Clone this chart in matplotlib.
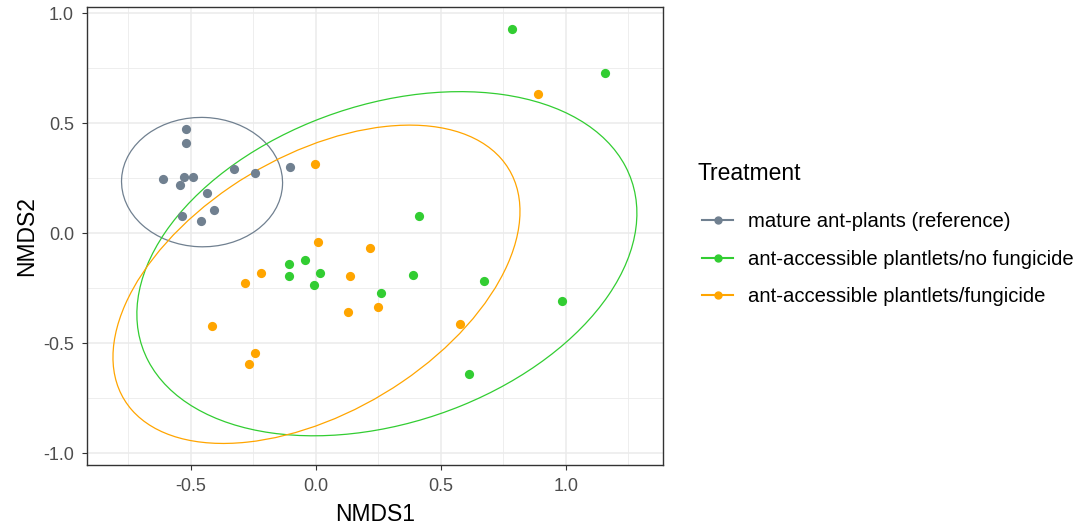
import matplotlib
matplotlib.use("Agg")
import matplotlib.pyplot as plt
from matplotlib.patches import Ellipse
from matplotlib.lines import Line2D

plt.rcParams['font.family'] = ['Liberation Sans', 'DejaVu Sans']
plt.rcParams['axes.unicode_minus'] = False

treatments = ['mature ant-plants (reference)',
              'ant-accessible plantlets/no fungicide',
              'ant-accessible plantlets/fungicide']
colors = ['#708090', '#32CD32', '#FFA500']

# NMDS scores
ref_x = [-0.611, -0.52, -0.52, -0.543, -0.529, -0.491, -0.437, -0.536, -0.46, -0.408, -0.327, -0.245, -0.103]
ref_y = [0.247, 0.474, 0.412, 0.22, 0.255, 0.256, 0.185, 0.079, 0.055, 0.106, 0.291, 0.274, 0.3]

nofung_x = [0.783, 1.156, 0.411, -0.108, -0.044, -0.108, 0.016, -0.007, 0.389, 0.672, 0.261, 0.985, 0.613]
nofung_y = [0.93, 0.73, 0.08, -0.14, -0.121, -0.193, -0.182, -0.235, -0.191, -0.218, -0.27, -0.306, -0.64]

fung_x = [-0.005, 0.009, 0.888, 0.217, -0.221, -0.283, 0.135, 0.128, -0.416, -0.244, -0.267, 0.248, 0.576]
fung_y = [0.316, -0.041, 0.633, -0.068, -0.182, -0.227, -0.193, -0.358, -0.42, -0.543, -0.596, -0.333, -0.411]

# 95% ellipses (center, width, height, angle)
ell_centers = [(-0.455, 0.233), (0.284, -0.138), (0.0025, -0.2315)]
ell_widths = [0.644, 2.103, 1.867]
ell_heights = [0.588, 1.422, 1.121]
ell_angles = [-3, 24.9, 37.8]

xs = [ref_x, nofung_x, fung_x]
ys = [ref_y, nofung_y, fung_y]

fig = plt.figure(figsize=(10.81, 5.31), dpi=100)
ax = fig.add_axes([87 / 1081, 1 - 465 / 531, (663 - 87) / 1081, (465 - 7) / 531])

for i in range(3):
    ax.scatter(xs[i], ys[i], s=44, color=colors[i], zorder=3, linewidths=0)
    e = Ellipse(ell_centers[i], ell_widths[i], ell_heights[i], angle=ell_angles[i],
                fill=False, edgecolor=colors[i], lw=0.9, zorder=2)
    ax.add_patch(e)

ax.set_xlim(-0.915, 1.388)
ax.set_ylim(-1.053, 1.029)
ax.set_xticks([-0.5, 0.0, 0.5, 1.0])
ax.set_yticks([-1.0, -0.5, 0.0, 0.5, 1.0])
ax.set_xticks([-0.75, -0.25, 0.25, 0.75, 1.25], minor=True)
ax.set_yticks([-0.75, -0.25, 0.25, 0.75], minor=True)
ax.grid(True, which='major', color='#EBEBEB', lw=1.1)
ax.grid(True, which='minor', color='#EBEBEB', lw=0.6)
ax.set_axisbelow(True)
ax.tick_params(which='minor', length=0)
ax.tick_params(which='major', length=3.3, width=0.8, color='#333333',
               labelcolor='#4D4D4D', labelsize=13, pad=6)
for s in ax.spines.values():
    s.set_color('#333333')
    s.set_linewidth(1.0)

ax.set_xlabel('NMDS1', fontsize=16.5, labelpad=6)
ax.set_ylabel('NMDS2', fontsize=16.5, labelpad=4)

# legend
fig.text(698 / 1081, 1 - 173 / 531, 'Treatment', fontsize=16.5, va='center', ha='left')
handles = [Line2D([0], [0], color=c, lw=1.5, marker='o', markersize=5) for c in colors]
fig.legend(handles, treatments, loc='upper left',
           bbox_to_anchor=(694 / 1081, 1 - 204 / 531), borderaxespad=0, frameon=False,
           fontsize=14.6, handlelength=1.53, handletextpad=0.74, labelspacing=0.92)

fig.savefig('out.png', dpi=100)
